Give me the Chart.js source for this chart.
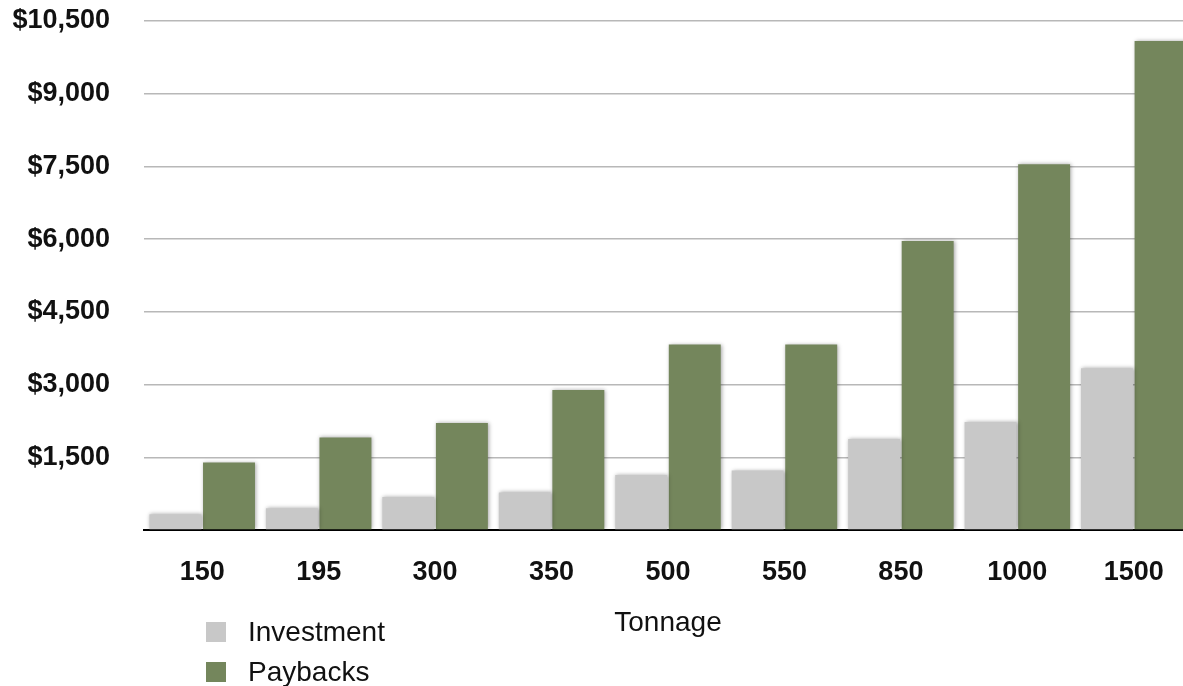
<!DOCTYPE html>
<html>
<head>
<meta charset="utf-8">
<script src="https://cdn.jsdelivr.net/npm/chart.js@4"></script>
<style>
  html, body { margin: 0; padding: 0; background: #fff; overflow: hidden; }
  #wrap { position: relative; width: 1183px; height: 686px; overflow: hidden; }
  #c { position: absolute; left: 0; top: 0; }
  #legend { position: absolute; left: 206px; top: 612px; font-family: "Liberation Sans", Arial, sans-serif; font-size: 28px; color: #111; }
  .item { display: flex; align-items: center; height: 40px; }
  .box { width: 20px; height: 20px; margin-right: 22px; }
</style>
</head>
<body>
<div id="wrap">
  <canvas id="c" width="1192" height="686"></canvas>
  <div id="legend"></div>
</div>
<script>
const categories = ["150", "195", "300", "350", "500", "550", "850", "1000", "1500"];
const investment = [325, 450, 680, 775, 1135, 1225, 1875, 2230, 3335];
const paybacks = [1390, 1910, 2205, 2890, 3825, 3825, 5960, 7545, 10090];
const seriesNames = ["Investment", "Paybacks"];
const seriesColors = ["#c8c8c8", "#74865c"];
const yMax = 10500;
const yStep = 1500;
const xTitle = "Tonnage";

const FONT = '"Liberation Sans", Arial, Helvetica, sans-serif';

const shadowPlugin = {
  id: 'barShadow',
  beforeDatasetsDraw(chart) {
    const ctx = chart.ctx;
    ctx.save();
    ctx.shadowColor = 'rgba(0,0,0,0.35)';
    ctx.shadowBlur = 4;
    ctx.shadowOffsetX = 1;
    ctx.shadowOffsetY = 0;
  },
  afterDatasetsDraw(chart) {
    chart.ctx.restore();
  }
};

const chart = new Chart(document.getElementById('c'), {
  type: 'bar',
  data: {
    labels: categories,
    datasets: [
      { label: seriesNames[0], data: investment, backgroundColor: seriesColors[0], borderWidth: 0,
        categoryPercentage: 0.92, barPercentage: 0.97 },
      { label: seriesNames[1], data: paybacks, backgroundColor: seriesColors[1], borderWidth: 0,
        categoryPercentage: 0.92, barPercentage: 0.97 }
    ]
  },
  options: {
    responsive: false,
    animation: false,
    devicePixelRatio: 1,
    layout: { padding: { top: 0, right: 0, bottom: 46, left: 0 } },
    plugins: {
      legend: { display: false },
      tooltip: { enabled: false }
    },
    scales: {
      x: {
        grid: { display: false, drawTicks: false },
        border: { display: true, color: '#000', width: 2 },
        ticks: { color: '#111', font: { family: FONT, size: 27, weight: 'bold' }, padding: 26 },
        title: { display: true, text: xTitle, color: '#111', font: { family: FONT, size: 28 }, padding: { top: -8, bottom: 0 } }
      },
      y: {
        min: 0,
        max: yMax,
        afterFit(scale) { scale.width = 144; scale.paddingTop = 21; scale.paddingBottom = 0; },
        grid: { color: '#b8b8b8', lineWidth: 1.5, drawTicks: false },
        border: { display: false },
        ticks: {
          stepSize: yStep,
          color: '#111',
          padding: 34,
          font: { family: FONT, size: 27, weight: 'bold' },
          callback: (v) => v === 0 ? '' : '$' + v.toLocaleString('en-US')
        }
      }
    }
  },
  plugins: [shadowPlugin]
});

const legend = document.getElementById('legend');
chart.data.datasets.forEach(ds => {
  const item = document.createElement('div');
  item.className = 'item';
  const box = document.createElement('div');
  box.className = 'box';
  box.style.background = ds.backgroundColor;
  const t = document.createElement('span');
  t.textContent = ds.label;
  item.appendChild(box);
  item.appendChild(t);
  legend.appendChild(item);
});
</script>
</body>
</html>
